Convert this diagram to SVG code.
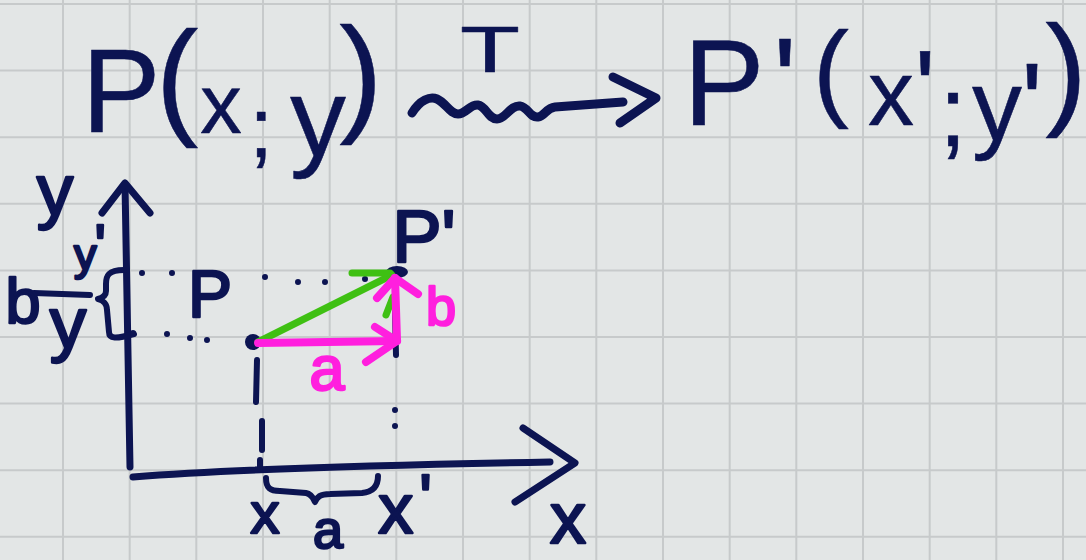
<svg xmlns="http://www.w3.org/2000/svg" width="1086" height="560" viewBox="0 0 1086 560">
<style>
.grid{stroke:#c7cacb;stroke-width:2;fill:none}
.ink{stroke:#0c1452;fill:none;stroke-linecap:round;stroke-linejoin:round}
.pk{stroke:#ff1fde;fill:none;stroke-linecap:round;stroke-linejoin:round;stroke-width:8}
.gr{stroke:#3fc013;fill:none;stroke-linecap:round;stroke-linejoin:round;stroke-width:7}
text{font-family:"Liberation Sans",Arial,sans-serif;text-anchor:middle;stroke-linejoin:round}
.t{fill:#0c1452;stroke:#0c1452;stroke-width:0.5}
.s{fill:#0c1452;stroke:#0c1452;stroke-width:2.5}
.m{fill:#ff1fde;stroke:#ff1fde;stroke-width:2.5}
</style>
<rect width="1086" height="560" fill="#e3e6e6"/>
<path class="grid" d="M63,0V560M129.7,0V560M196.3,0V560M263,0V560M329.7,0V560M396.3,0V560M463,0V560M529.7,0V560M596.3,0V560M663,0V560M729.7,0V560M796.3,0V560M863,0V560M929.7,0V560M996.3,0V560M1063,0V560M0,4H1086M0,70.6H1086M0,137.2H1086M0,203.8H1086M0,270.4H1086M0,337H1086M0,403.6H1086M0,470.2H1086M0,536.8H1086"/>

<g id="formula-left">
<text class="t"><tspan x="121" y="132" font-size="118">P</tspan><tspan x="177" y="121" font-size="128">(</tspan><tspan x="221" y="133" font-size="83">x</tspan><tspan x="261" y="157" font-size="85">;</tspan><tspan x="318" y="156" font-size="112">y</tspan><tspan x="361" y="118" font-size="130">)</tspan></text>
</g>
<g id="transform-T">
<text class="t" x="490" y="72" font-size="64" textLength="60" lengthAdjust="spacingAndGlyphs">T</text>
</g>
<g id="formula-right">
<text class="t"><tspan x="724" y="125" font-size="122">P</tspan><tspan x="785" y="125" font-size="125">'</tspan><tspan x="831" y="107" font-size="108">(</tspan><tspan x="891" y="125" font-size="92">x</tspan><tspan x="925" y="127" font-size="110">'</tspan><tspan x="953" y="146" font-size="100">;</tspan><tspan x="997" y="140" font-size="100">y</tspan><tspan x="1032" y="143" font-size="115">'</tspan><tspan x="1066" y="112" font-size="125">)</tspan></text>
</g>

<g id="connectors">
<path class="ink" stroke-width="9" d="M412,113 C420,100 430,96 437,99 C446,103 450,114 458,114 C466,114 470,104 478,105 C486,106 488,119 497,119 C506,119 510,105 520,106 C528,107 530,118 538,117 C545,116 546,108 555,107 L623,102"/>
<path class="ink" stroke-width="9" d="M613,77 L656,98 L620,123"/>
</g>

<g id="axes">
<path class="ink" stroke-width="7" d="M125,184 L130,467"/>
<path class="ink" stroke-width="7" d="M102,213 L125,183 L150,213"/>
<path class="ink" stroke-width="7" d="M133,477 Q260,467 550,462"/>
<path class="ink" stroke-width="7" d="M523,428 L575,463 L515,502"/>
<path class="ink" stroke-width="6" d="M124,270 C108,270 106,276 106,284 L106,291 C106,296 102,298 98,299 C103,300 107,304 107,310 L109,332 C109,339 116,339 134,334"/>
<path class="ink" stroke-width="6" d="M34,293 L90,295"/>
<path class="ink" stroke-width="6" d="M266,478 C266,488 270,491 280,491 L306,493 C312,494 314,500 315,502 C317,497 320,494 330,494 L362,493 C373,492 378,486 378,476"/>
</g>

<g id="guides">
<path class="ink" stroke-width="6" d="M142,273h0M172,273h0M265,277h0M298,282h0M325,282h0M365,279h0M133,333h0M167,334h0M190,338h0M207,340h0M395,410h0M395,426h0"/>
<path class="ink" stroke-width="6" d="M257,360 L256,402 M262,421 L262,450 M260,460 L260,469"/>
<path class="ink" stroke-width="6" d="M395,312 L396,355"/>
</g>

<g id="point-P">
<circle cx="253" cy="342" r="8" fill="#0c1452"/>
<text class="s" x="210" y="317" font-size="66">P</text>
</g>
<g id="point-P-prime">
<ellipse cx="397" cy="272" rx="11" ry="6" fill="#0c1452"/>
<text class="s" x="424" y="262" font-size="74">P'</text>
</g>

<g id="green-path">
<path class="gr" d="M258,342 L392,275"/>
<path class="gr" d="M352,273 L390,273"/>
<path class="gr" d="M386,315 L393,297"/>
</g>
<g id="vector-a">
<path class="pk" d="M258,343 L397,341"/>
<path class="pk" d="M375,327 L397,341 L366,362"/>
<text class="m" x="327" y="390" font-size="63">a</text>
</g>
<g id="vector-b">
<path class="pk" d="M397,340 L395,278"/>
<path class="pk" d="M377,298 L395,278 L418,294"/>
<text class="m" x="441" y="325" font-size="54">b</text>
</g>

<g id="labels">
<text class="s" x="55" y="215" font-size="73">y</text>
<text class="s" x="90" y="270" font-size="45">y<tspan dx="-2" dy="-4" font-size="60">'</tspan></text>
<text class="s" x="23" y="323" font-size="63">b</text>
<text class="s" x="68" y="348" font-size="73">y</text>
<text class="s" x="265" y="533" font-size="58">x</text>
<text class="s" x="328" y="548" font-size="54">a</text>
<text class="s" x="405" y="533" font-size="70">x<tspan dx="6" dy="-12" font-size="66">'</tspan></text>
<text class="s" x="568" y="543" font-size="72">x</text>
</g>
</svg>
